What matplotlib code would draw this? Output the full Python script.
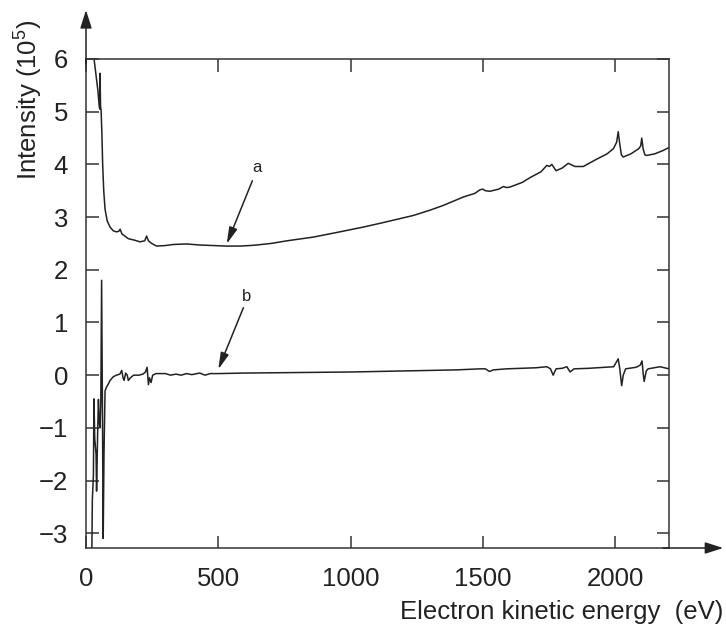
import numpy as np
import matplotlib as mpl
import matplotlib.pyplot as plt

mpl.rcParams['font.family'] = ['Liberation Sans', 'DejaVu Sans']
mpl.rcParams['mathtext.fontset'] = 'custom'
mpl.rcParams['mathtext.rm'] = 'Liberation Sans'

# curve a (raw spectrum), energy in eV / intensity in 1e5
ea = [30, 45, 50, 52, 53, 55, 57, 60, 63, 67, 72, 80, 91, 103, 115, 124, 129, 136,
      160, 185, 204, 222, 229, 236, 248, 267, 300, 330, 380, 430, 480, 530, 580,
      620, 645, 700, 760, 859, 950, 1048, 1110, 1237, 1300, 1350, 1426, 1470, 1490,
      1500, 1510, 1527, 1560, 1578, 1590, 1603, 1650, 1679, 1720, 1742, 1752, 1761,
      1777, 1800, 1823, 1849, 1880, 1931, 1970, 1994, 2006, 2012, 2018, 2024, 2031,
      2060, 2090, 2097, 2101, 2106, 2113, 2120, 2150, 2180, 2204]
ia = [6.02, 5.4, 5.1, 5.05, 5.73, 5.1, 5.03, 4.6, 4.0, 3.5, 3.15, 2.93, 2.81, 2.74,
      2.72, 2.73, 2.77, 2.68, 2.59, 2.56, 2.53, 2.55, 2.64, 2.55, 2.5, 2.45, 2.46,
      2.48, 2.49, 2.47, 2.46, 2.45, 2.45, 2.46, 2.47, 2.5, 2.55, 2.62, 2.71, 2.81,
      2.88, 3.03, 3.13, 3.22, 3.38, 3.45, 3.52, 3.53, 3.5, 3.49, 3.53, 3.58, 3.56,
      3.57, 3.66, 3.75, 3.86, 3.98, 3.96, 4.0, 3.88, 3.93, 4.02, 3.96, 3.96, 4.1,
      4.2, 4.3, 4.42, 4.62, 4.38, 4.18, 4.14, 4.2, 4.3, 4.35, 4.5, 4.3, 4.18, 4.17,
      4.2, 4.26, 4.32]

# curve b (derivative spectrum)
eb = [22, 24, 28, 30, 33, 38, 40, 44, 47, 50, 53, 56, 59, 62, 65, 68, 72, 78, 81,
      91, 103, 115, 128, 135, 140, 144, 150, 156, 160, 168, 180, 200, 215, 225, 231,
      236, 240, 246, 252, 265, 300, 320, 340, 360, 380, 400, 430, 450, 470, 500,
      600, 800, 1000, 1200, 1400, 1490, 1510, 1525, 1540, 1590, 1700, 1742, 1756,
      1766, 1777, 1800, 1818, 1830, 1845, 1900, 1995, 2012, 2018, 2025, 2031, 2040,
      2080, 2095, 2102, 2106, 2110, 2118, 2125, 2170, 2204]
ib = [-3.4, -2.36, -1.9, -0.45, -1.2, -1.5, -2.2, -1.1, -0.46, -0.9, -1.0, -0.5,
      1.8, -0.5, -3.1, -1.5, -0.3, -0.22, -0.2, -0.1, -0.03, 0.0, 0.02, 0.09, -0.05,
      -0.1, 0.04, 0.0, -0.1, -0.05, 0.0, 0.0, 0.02, 0.06, 0.15, -0.18, -0.05, -0.14,
      0.0, 0.03, 0.03, 0.0, 0.02, 0.0, 0.03, 0.01, 0.04, 0.0, 0.03, 0.03, 0.04,
      0.05, 0.06, 0.08, 0.1, 0.12, 0.12, 0.07, 0.1, 0.12, 0.14, 0.16, 0.12, 0.0,
      0.12, 0.13, 0.16, 0.06, 0.12, 0.13, 0.16, 0.31, 0.12, -0.2, 0.0, 0.12, 0.15,
      0.19, 0.27, 0.05, -0.12, 0.08, 0.12, 0.16, 0.12]

xticks = [0, 500, 1000, 1500, 2000]
yticks = [-3, -2, -1, 0, 1, 2, 3, 4, 5, 6]

W, H = 726, 632
fig = plt.figure(figsize=(W / 100, H / 100), dpi=100)
ax = fig.add_axes([86 / W, 84 / H, 583 / W, 489 / H])

ax.plot(ea, ia, color='#222222', lw=1.1)
ax.plot(eb, ib, color='#222222', lw=1.1)

ax.set_xlim(0, 2204)
ax.set_ylim(-3.28, 6)
ax.set_xticks(xticks)
ax.set_yticks(yticks)
ax.tick_params(axis='both', which='both', direction='in', length=9, width=1.1,
               top=True, right=True, labelsize=18.5, color='#333333',
               labelcolor='#222222')
ax.tick_params(axis='y', pad=13)
ax.tick_params(axis='x', pad=14)
for s in ax.spines.values():
    s.set_linewidth(1.1)
    s.set_color('#333333')

# axis arrows
arw = dict(arrowstyle='-|>,head_length=1.1,head_width=0.35', lw=1.1,
           color='#222222', shrinkA=0, shrinkB=0)
ax.annotate('', xy=(0, 1.1), xytext=(0, 0.99), xycoords='axes fraction',
            arrowprops=arw, annotation_clip=False)
ax.annotate('', xy=(1.093, 0), xytext=(0.99, 0), xycoords='axes fraction',
            arrowprops=arw, annotation_clip=False)

# labelled arrows a and b
lab = dict(arrowstyle='-|>,head_length=1.0,head_width=0.25', lw=1.1,
           color='#222222', shrinkA=0, shrinkB=0)
ax.annotate('', xy=(532, 2.49), xytext=(629, 3.69), arrowprops=lab)
ax.text(645, 3.94, 'a', fontsize=12, ha='center', va='center', color='#222222')
ax.annotate('', xy=(500, 0.11), xytext=(595, 1.28), arrowprops=lab)
ax.text(608, 1.5, 'b', fontsize=12, ha='center', va='center', color='#222222')

fig.text(28 / W, 1 - 100 / H, r'Intensity (10$^{\mathrm{5}}$)', rotation=90,
         fontsize=18.5, ha='center', va='center', color='#222222')
fig.text(723 / W, 1 - 612 / H, 'Electron kinetic energy  (eV)', fontsize=18.5,
         ha='right', va='center', color='#222222')

plt.savefig('out.png', dpi=100)
